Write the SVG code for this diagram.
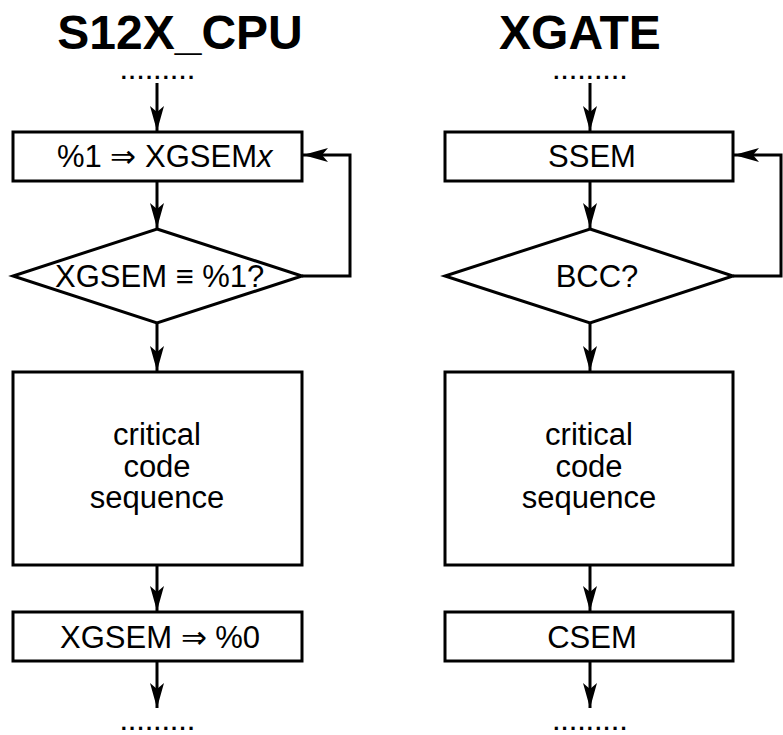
<svg xmlns="http://www.w3.org/2000/svg" width="783" height="735" viewBox="0 0 783 735">
<style>
.box{fill:#fff;stroke:#000;stroke-width:3}
.ln{fill:none;stroke:#000;stroke-width:3}
.t{font-family:"Liberation Sans",Arial,sans-serif;font-size:31px;fill:#000}
.c{text-anchor:middle}
.dots{font-family:"Liberation Sans",Arial,sans-serif;font-size:22px;font-weight:bold;letter-spacing:2.3px;text-anchor:middle;fill:#000}
.title{font-family:"Liberation Sans",Arial,sans-serif;font-size:48px;font-weight:bold;text-anchor:middle;fill:#000}
</style>
<defs>
<marker id="ah" markerUnits="userSpaceOnUse" markerWidth="30" markerHeight="20" viewBox="-26 -10 28 20" refX="0" refY="0" orient="auto">
<path d="M0,0 L-25,-7 L-19,0 L-25,7 Z" fill="#000"/>
</marker>
</defs>
<rect width="783" height="735" fill="#fff"/>
<g id="titles">
<text class="title" x="180" y="49">S12X_CPU</text>
<text class="title" x="580" y="49">XGATE</text>
</g>
<g id="dots">
<text class="dots" x="158.5" y="79">.........</text>
<text class="dots" x="591" y="79">.........</text>
<text class="dots" x="158.5" y="730">.........</text>
<text class="dots" x="591" y="730">.........</text>
</g>
<g id="connectors">
<path class="ln" d="M157,83 V131" marker-end="url(#ah)"/>
<path class="ln" d="M157,182 V228" marker-end="url(#ah)"/>
<path class="ln" d="M302,276 H350 V155 H303" marker-end="url(#ah)"/>
<path class="ln" d="M157,323 V371" marker-end="url(#ah)"/>
<path class="ln" d="M157,565 V611" marker-end="url(#ah)"/>
<path class="ln" d="M157,661 V708" marker-end="url(#ah)"/>
<path class="ln" d="M590,83 V131" marker-end="url(#ah)"/>
<path class="ln" d="M590,182 V228" marker-end="url(#ah)"/>
<path class="ln" d="M733,276 H781 V155 H734" marker-end="url(#ah)"/>
<path class="ln" d="M590,323 V371" marker-end="url(#ah)"/>
<path class="ln" d="M590,565 V611" marker-end="url(#ah)"/>
<path class="ln" d="M590,661 V708" marker-end="url(#ah)"/>
</g>
<g id="cpu-set">
<rect class="box" x="13" y="132" width="289" height="49"/>
<text class="t" x="57" y="167">%1 ⇒ XGSEM<tspan font-style="italic">x</tspan></text>
</g>
<g id="cpu-check">
<polygon class="box" points="157,229 302,276 157,323 13,276"/>
<text class="t" x="55" y="287">XGSEM ≡ %1?</text>
</g>
<g id="cpu-critical">
<rect class="box" x="13" y="372" width="289" height="193"/>
<text class="t c" x="157" y="445">critical</text>
<text class="t c" x="157" y="477">code</text>
<text class="t c" x="157" y="508">sequence</text>
</g>
<g id="cpu-clear">
<rect class="box" x="13" y="612" width="289" height="49"/>
<text class="t" x="60" y="648">XGSEM ⇒ %0</text>
</g>
<g id="xg-ssem">
<rect class="box" x="445" y="132" width="288" height="49"/>
<text class="t c" x="592" y="167">SSEM</text>
</g>
<g id="xg-bcc">
<polygon class="box" points="590,229 733,276 590,323 445,276"/>
<text class="t c" x="597" y="287">BCC?</text>
</g>
<g id="xg-critical">
<rect class="box" x="445" y="372" width="288" height="193"/>
<text class="t c" x="589" y="445">critical</text>
<text class="t c" x="589" y="477">code</text>
<text class="t c" x="589" y="508">sequence</text>
</g>
<g id="xg-csem">
<rect class="box" x="445" y="612" width="288" height="49"/>
<text class="t c" x="592" y="648">CSEM</text>
</g>
</svg>
